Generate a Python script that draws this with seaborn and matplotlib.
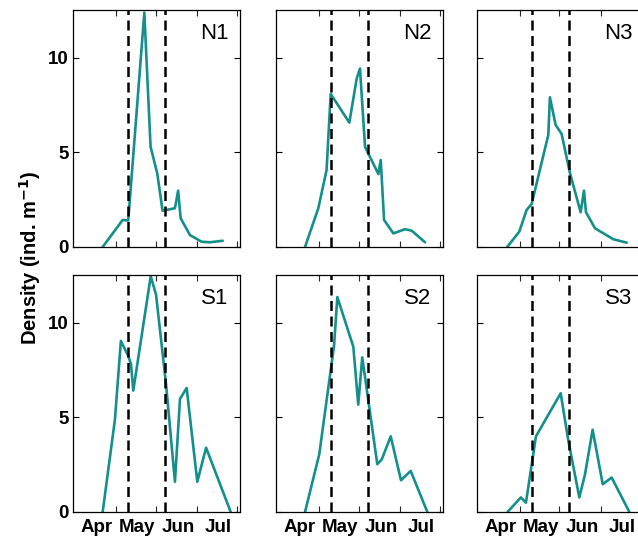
import numpy as np
import pandas as pd
from matplotlib import pyplot as plt
import seaborn as sns

# day of year for each sample, density in ind. m-1
n1_day = [95.3, 110.3, 114.5, 126.6, 131.3, 136.3, 140.3, 149.6, 152.0, 153.9, 160.9, 169.6, 176.0, 185.5]
n1_val = [0.0, 1.43, 1.4, 12.4, 5.3, 3.9, 1.92, 2.05, 2.98, 1.52, 0.63, 0.28, 0.25, 0.33]

n2_day = [94.8, 104.8, 111.0, 114.1, 128.1, 133.6, 136.1, 139.9, 149.9, 151.7, 154.2, 161.2, 169.9, 175.0, 185.0]
n2_val = [0.0, 2.05, 4.07, 8.1, 6.58, 8.9, 9.44, 5.3, 3.86, 4.6, 1.43, 0.72, 0.94, 0.86, 0.25]

n3_day = [95.7, 104.8, 110.3, 114.1, 126.6, 127.8, 132.1, 136.6, 142.9, 150.9, 153.4, 154.9, 161.7, 175.4, 185.5]
n3_val = [0.0, 0.81, 1.96, 2.28, 5.93, 7.92, 6.46, 5.98, 3.9, 1.84, 2.98, 1.84, 0.99, 0.41, 0.23]

s1_day = [95.3, 104.5, 109.0, 114.5, 116.6, 118.3, 131.4, 135.4, 142.9, 149.6, 153.4, 158.4, 166.4, 173.0, 191.5]
s1_val = [0.0, 4.88, 9.05, 8.26, 7.82, 6.42, 12.47, 11.5, 6.77, 1.6, 5.98, 6.56, 1.6, 3.4, 0.0]

s2_day = [94.8, 105.5, 116.6, 119.1, 131.1, 134.8, 137.8, 149.1, 152.4, 159.2, 166.9, 174.2, 186.7]
s2_val = [0.0, 3.05, 8.79, 11.37, 8.74, 5.68, 8.18, 2.53, 2.77, 4.0, 1.68, 2.17, 0.0]

s3_day = [96.0, 106.0, 109.8, 117.3, 135.9, 141.6, 149.9, 154.2, 159.9, 167.5, 174.2, 187.5]
s3_val = [0.0, 0.77, 0.49, 4.0, 6.28, 3.79, 0.77, 2.0, 4.35, 1.47, 1.82, 0.0]

sites = ["N1", "N2", "N3", "S1", "S2", "S3"]
days = [n1_day, n2_day, n3_day, s1_day, s2_day, s3_day]
vals = [n1_val, n2_val, n3_val, s1_val, s2_val, s3_val]

period = [114.5, 142.5]
month_pos = [91, 121, 152, 182]
month_lab = ["Apr", "May", "Jun", "Jul"]
minor_pos = [105, 135, 166, 196]

sns.set_theme(style="white")
plt.rcParams["font.family"] = ["Liberation Sans", "DejaVu Sans"]
plt.rcParams["text.color"] = "black"

fig = plt.figure(figsize=(6.38, 5.42), dpi=100)
lefts = [0.1144, 0.4326, 0.7476]
bottoms = [0.5443, 0.0554]
w = 0.2618
h = 0.4373
teal = "#14908b"

for i, site in enumerate(sites):
    row, col = divmod(i, 3)
    ax = fig.add_axes([lefts[col], bottoms[row], w, h])
    df = pd.DataFrame({"day": days[i], "density": vals[i]})
    sns.lineplot(data=df, x="day", y="density", ax=ax, color=teal, lw=1.9, estimator=None)
    for d in period:
        ax.axvline(d, color="black", lw=1.8, ls=(0, (4.0, 2.2)), zorder=3)
    ax.set_xlim(73, 198.5)
    ax.set_ylim(0, 12.54)
    ax.set_yticks([0, 5, 10])
    ax.set_xticks(month_pos)
    ax.set_xticks(minor_pos, minor=True)
    ax.tick_params(axis="both", which="major", labelsize=13.5, colors="black")
    ax.tick_params(axis="x", which="major", length=0, pad=5)
    ax.tick_params(axis="y", which="major", direction="in", length=4, width=0.8,
                   left=True, right=True, pad=3)
    ax.tick_params(axis="x", which="minor", direction="in", length=4, width=0.8,
                   bottom=True, top=True)
    if row == 1:
        ax.set_xticklabels(month_lab, fontweight="bold")
    else:
        ax.set_xticklabels([])
    if col != 0:
        ax.set_yticklabels([])
    else:
        for t in ax.get_yticklabels():
            t.set_fontweight("bold")
    ax.set_xlabel("")
    ax.set_ylabel("")
    for s in ax.spines.values():
        s.set_color("black")
        s.set_linewidth(0.9)
    ax.text(0.93, 0.9, site, transform=ax.transAxes, ha="right", va="center",
            fontsize=16, color="black")

fig.text(0.047, 0.525, r"Density (ind. m$^{\mathbf{-1}}$)", rotation=90, ha="center",
         va="center", fontsize=14.5, fontweight="bold", color="black")

fig.savefig("out.png", dpi=100)
